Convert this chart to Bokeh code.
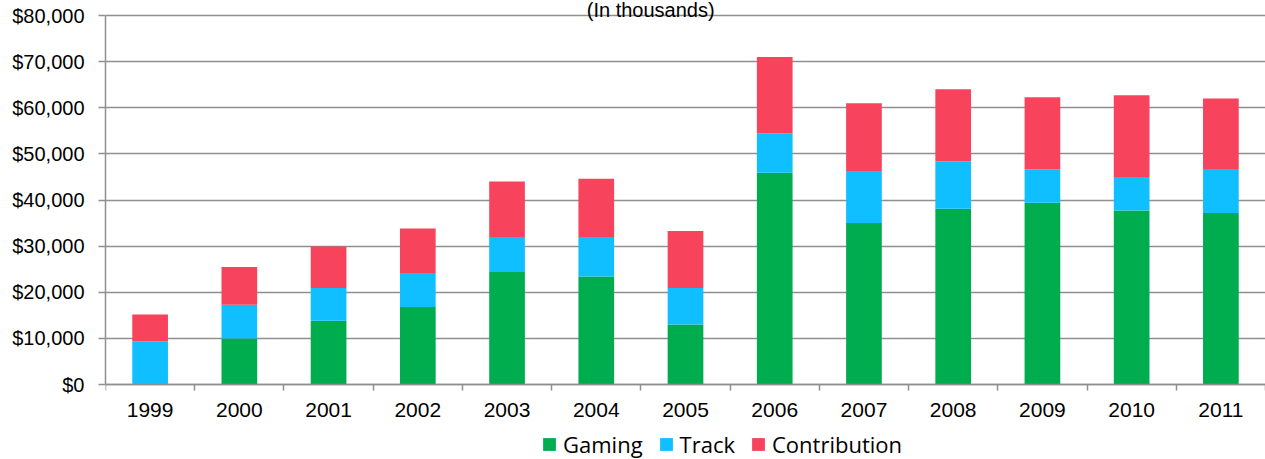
from bokeh.plotting import figure
from bokeh.models import (ColumnDataSource, FixedTicker, NumeralTickFormatter, Legend,
                          LegendItem, Label, Range1d)
from bokeh.embed import file_html
from bokeh.resources import INLINE

years = ["1999", "2000", "2001", "2002", "2003", "2004", "2005",
         "2006", "2007", "2008", "2009", "2010", "2011"]
gaming = [0, 10000, 13800, 16800, 24400, 23400, 13000, 45900, 35000, 38100, 39400, 37700, 37200]
track = [9300, 7300, 7100, 7400, 7600, 8600, 7900, 8500, 11300, 10300, 7200, 7300, 9500]
contribution = [5900, 8200, 9000, 9600, 12000, 12600, 12400, 16600, 14700, 15600, 15700, 17700, 15300]
series = ["Gaming", "Track", "Contribution"]
colors = ["#00AD4E", "#10BFFF", "#F7435C"]
y_ticks = [0, 10000, 20000, 30000, 40000, 50000, 60000, 70000, 80000]
y_max = 80000

# layout in pixels: frame spans the whole canvas height
H = 459
TOP_PX = 15      # pixel row of y_max
ZERO_PX = 384    # pixel row of 0
scale = y_max / (ZERO_PX - TOP_PX)
y_lo = -(H - ZERO_PX) * scale
y_hi = y_max + TOP_PX * scale

xpos = [i + 0.5 for i in range(len(years))]
src = ColumnDataSource(dict(x=xpos, Gaming=gaming, Track=track, Contribution=contribution))

p = figure(width=1265, height=H, output_backend="svg", toolbar_location=None,
           x_range=Range1d(0, len(years)), y_range=Range1d(y_lo, y_hi),
           min_border_left=105, min_border_right=0, min_border_top=0, min_border_bottom=0)
p.frame_width = 1160
p.frame_height = H
p.outline_line_color = None
p.background_fill_color = "white"
p.border_fill_color = "white"

renderers = p.vbar_stack(series, x="x", width=0.4, source=src, color=colors, line_width=0)

GRID = "#8f8f8f"
FONT = "Liberation Sans"

# y axis
ya = p.yaxis[0]
ya.ticker = FixedTicker(ticks=y_ticks)
ya.bounds = (0, y_max)
ya.formatter = NumeralTickFormatter(format="$0,0")
ya.axis_line_color = GRID
ya.axis_line_width = 1.5
ya.major_tick_line_color = GRID
ya.major_tick_line_width = 1.5
ya.major_tick_out = 7
ya.major_tick_in = 0
ya.minor_tick_line_color = None
ya.major_label_text_font = FONT
ya.major_label_text_font_size = "20px"
ya.major_label_text_color = "#000000"
ya.major_label_standoff = 14

# x axis drawn at y = 0: labels at centers, tick marks between categories
xa = p.xaxis[0]
xa.fixed_location = 0
xa.ticker = FixedTicker(ticks=xpos, minor_ticks=list(range(len(years) + 1)))
xa.major_label_overrides = {x: y for x, y in zip(xpos, years)}
xa.axis_line_color = GRID
xa.axis_line_width = 1.5
xa.major_tick_line_color = None
xa.minor_tick_line_color = GRID
xa.minor_tick_line_width = 1.5
xa.minor_tick_out = 6
xa.minor_tick_in = 0
xa.major_label_text_font = FONT
xa.major_label_text_font_size = "21px"
xa.major_label_text_color = "#000000"
xa.major_label_standoff = 12

p.xgrid.grid_line_color = None
p.ygrid.ticker = FixedTicker(ticks=y_ticks)
p.ygrid.grid_line_color = GRID
p.ygrid.grid_line_width = 1.5

title = Label(x=6.11, y=y_max, y_offset=6, text="(In thousands)", text_align="center",
              text_baseline="alphabetic", text_font=FONT, text_font_size="20px",
              text_color="#000000")
p.add_layout(title)

legend = Legend(items=[LegendItem(label=s, renderers=[r]) for s, r in zip(series, renderers)],
                orientation="horizontal", location=(436, 0), padding=0, margin=0,
                spacing=15, label_standoff=6, glyph_width=16, glyph_height=16,
                label_height=16, border_line_color=None, background_fill_alpha=0,
                label_text_font="Open Sans", label_text_font_size="22px",
                label_text_color="#000000")
p.add_layout(legend, "center")

open("out.html", "w").write(file_html(p, INLINE))
